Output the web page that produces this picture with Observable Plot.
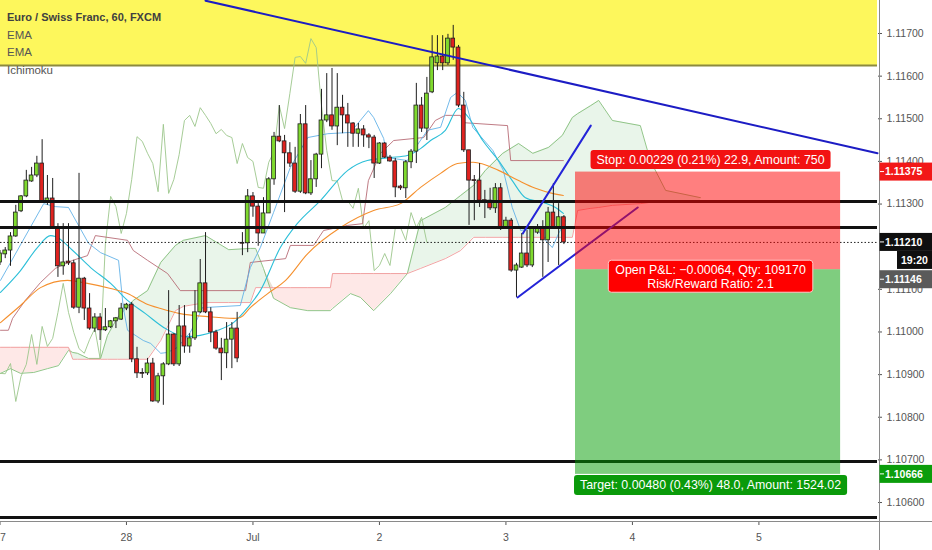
<!DOCTYPE html>
<html><head><meta charset="utf-8">
<script src="https://cdn.jsdelivr.net/npm/d3@7"></script>
<script src="https://cdn.jsdelivr.net/npm/@observablehq/plot@0.6"></script>
<style>
html,body{margin:0;padding:0;background:#fff;}
#chart{position:relative;width:932px;height:550px;overflow:hidden;}
</style></head><body><div id="chart"></div>
<script>
// ---- data (EUR/CHF hourly bars, index 0 = Jun 27 00:00) ----
const opens  = [1.11163,1.11182,1.11191,1.11224,1.11283,1.11318,1.11353,1.11367,1.11395,1.11306,1.11313,1.11245,1.11154,1.11165,1.11161,1.11057,1.11125,1.11055,1.11008,1.11034,1.11004,1.11011,1.11025,1.11029,1.11055,1.11064,1.10936,1.10904,1.10903,1.10926,1.10837,1.10896,1.10924,1.10994,1.10924,1.11013,1.10966,1.10985,1.11046,1.11114,1.11046,1.10999,1.10961,1.10950,1.10982,1.11008,1.11209,1.11208,1.11318,1.11294,1.11231,1.11278,1.11358,1.11458,1.11447,1.11419,1.11395,1.11329,1.11487,1.11325,1.11358,1.11416,1.11496,1.11508,1.11482,1.11526,1.11508,1.11489,1.11465,1.11475,1.11461,1.11456,1.11395,1.11442,1.11409,1.11400,1.11341,1.11337,1.11398,1.11423,1.11531,1.11477,1.11562,1.11630,1.11646,1.11630,1.11688,1.11667,1.11531,1.11426,1.11356,1.11355,1.11309,1.11308,1.11290,1.11337,1.11245,1.11261,1.11144,1.11151,1.11184,1.11156,1.11233,1.11245,1.11215,1.11280,1.11245,1.11269];
const highs  = [1.11191,1.11198,1.11233,1.11297,1.11320,1.11379,1.11386,1.11412,1.11451,1.11367,1.11360,1.11254,1.11254,1.11254,1.11168,1.11372,1.11128,1.11090,1.11043,1.11043,1.11055,1.11027,1.11034,1.11067,1.11067,1.11069,1.10964,1.10914,1.10938,1.10938,1.10903,1.10928,1.11097,1.10996,1.11062,1.11062,1.10996,1.11097,1.11170,1.11233,1.11057,1.11004,1.10985,1.11022,1.11022,1.11046,1.11233,1.11334,1.11327,1.11301,1.11315,1.11362,1.11468,1.11531,1.11461,1.11444,1.11433,1.11510,1.11531,1.11402,1.11419,1.11569,1.11606,1.11618,1.11606,1.11555,1.11536,1.11491,1.11489,1.11484,1.11465,1.11461,1.11444,1.11444,1.11414,1.11407,1.11344,1.11402,1.11428,1.11583,1.11550,1.11597,1.11695,1.11695,1.11695,1.11698,1.11719,1.11672,1.11562,1.11426,1.11367,1.11395,1.11332,1.11337,1.11348,1.11348,1.11269,1.11266,1.11161,1.11231,1.11238,1.11243,1.11252,1.11261,1.11292,1.11348,1.11301,1.11273];
const lows   = [1.11156,1.11172,1.11154,1.11222,1.11280,1.11315,1.11351,1.11362,1.11304,1.11297,1.11243,1.11128,1.11133,1.11156,1.11053,1.11043,1.11027,1.11004,1.10999,1.10980,1.11001,1.11008,1.11008,1.11027,1.11050,1.10928,1.10891,1.10891,1.10898,1.10835,1.10832,1.10828,1.10921,1.10919,1.10919,1.10950,1.10950,1.10980,1.11043,1.11043,1.10975,1.10957,1.10886,1.10914,1.10914,1.10928,1.11179,1.11186,1.11269,1.11201,1.11231,1.11278,1.11344,1.11444,1.11280,1.11386,1.11325,1.11325,1.11322,1.11320,1.11339,1.11383,1.11491,1.11473,1.11437,1.11465,1.11433,1.11433,1.11433,1.11433,1.11430,1.11360,1.11393,1.11407,1.11398,1.11315,1.11332,1.11313,1.11383,1.11395,1.11468,1.11449,1.11559,1.11613,1.11613,1.11625,1.11637,1.11526,1.11421,1.11250,1.11261,1.11292,1.11266,1.11285,1.11278,1.11238,1.11243,1.11140,1.11081,1.11149,1.11151,1.11151,1.11229,1.11128,1.11163,1.11243,1.11156,1.11205];
const closes = [1.11184,1.11191,1.11224,1.11280,1.11318,1.11355,1.11367,1.11395,1.11306,1.11313,1.11245,1.11154,1.11163,1.11161,1.11057,1.11125,1.11055,1.11008,1.11034,1.11004,1.11011,1.11025,1.11032,1.11055,1.11064,1.10936,1.10903,1.10902,1.10926,1.10837,1.10896,1.10924,1.10994,1.10924,1.11013,1.10966,1.10985,1.11046,1.11114,1.11046,1.10999,1.10961,1.10950,1.10982,1.11008,1.10938,1.11207,1.11318,1.11294,1.11231,1.11278,1.11358,1.11458,1.11447,1.11419,1.11395,1.11329,1.11487,1.11325,1.11358,1.11416,1.11496,1.11508,1.11482,1.11526,1.11508,1.11489,1.11465,1.11475,1.11461,1.11456,1.11395,1.11442,1.11409,1.11400,1.11339,1.11337,1.11398,1.11423,1.11531,1.11477,1.11559,1.11644,1.11646,1.11630,1.11688,1.11667,1.11531,1.11426,1.11355,1.11354,1.11308,1.11307,1.11290,1.11337,1.11243,1.11261,1.11144,1.11156,1.11184,1.11156,1.11243,1.11245,1.11215,1.11280,1.11245,1.11269,1.11210];

// indicators: [bar index, price]
const emaFast = [[0.1,1.11093],[3.9,1.11144],[7.1,1.11198],[9.6,1.11226],[10.5,1.11224],[13.8,1.11191],[17.2,1.11151],[21.0,1.11114],[24.2,1.11074],[27.6,1.11043],[31.4,1.11008],[35.2,1.10989],[38.0,1.10992],[41.3,1.11004],[44.3,1.11022],[47.0,1.11057],[49.4,1.11097],[53.2,1.11198],[56.4,1.11254],[60.8,1.11308],[66.0,1.11379],[69.7,1.11402],[74.1,1.11409],[77.3,1.11414],[79.8,1.11430],[81.7,1.11449],[84.5,1.11473],[87.0,1.11524],[88.9,1.11503],[91.6,1.11449],[94.6,1.11402],[97.2,1.11355],[99.7,1.11315],[103.0,1.11304],[105.4,1.11292],[106.9,1.11278]];
const emaSlow = [[0.1,1.11022],[3.9,1.11062],[7.7,1.11104],[12.8,1.11121],[16.6,1.11114],[21.0,1.11102],[24.2,1.11090],[27.6,1.11067],[30.5,1.11055],[34.2,1.11043],[39.4,1.11036],[44.3,1.11032],[45.6,1.11034],[47.5,1.11057],[50.8,1.11090],[54.2,1.11121],[58.4,1.11184],[64.6,1.11245],[70.9,1.11285],[76.0,1.11301],[79.8,1.11339],[83.6,1.11372],[86.8,1.11395],[89.8,1.11398],[94.6,1.11379],[98.4,1.11355],[101.6,1.11337],[104.8,1.11325],[106.9,1.11320]];
const tenkan = [[0.1,1.11121],[8.3,1.11301],[10.5,1.11294],[13.0,1.11292],[16.8,1.11208],[19.1,1.11186],[22.5,1.11168],[23.4,1.11057],[24.2,1.11004],[27.2,1.10980],[28.6,1.10973],[30.5,1.10950],[31.8,1.10952],[33.7,1.10964],[36.1,1.10999],[37.5,1.11032],[38.4,1.11057],[45.6,1.11062],[47.5,1.11151],[49.4,1.11198],[51.9,1.11280],[55.1,1.11386],[58.4,1.11456],[62.2,1.11465],[66.5,1.11468],[69.9,1.11519],[70.9,1.11503],[72.8,1.11454],[73.5,1.11409],[77.3,1.11402],[78.5,1.11426],[81.1,1.11473],[83.6,1.11480],[85.5,1.11550],[86.8,1.11562],[88.3,1.11543],[89.7,1.11480],[93.5,1.11426],[95.5,1.11379],[97.2,1.11292],[98.8,1.11238],[101.6,1.11245],[103.5,1.11215],[104.8,1.11198],[106.0,1.11231],[107.3,1.11261]];
const kijun = [[0.1,1.11004],[1.6,1.11004],[2.4,1.11032],[4.8,1.11074],[7.7,1.11116],[10.5,1.11149],[13.8,1.11168],[16.6,1.11179],[18.1,1.11226],[24.2,1.11215],[25.3,1.11191],[28.0,1.11168],[31.8,1.11137],[34.2,1.11097],[46.6,1.11097],[47.5,1.11163],[54.2,1.11172],[55.1,1.11203],[59.5,1.11203],[61.4,1.11238],[66.0,1.11250],[68.8,1.11254],[69.9,1.11355],[72.2,1.11419],[74.7,1.11449],[80.4,1.11456],[82.6,1.11496],[84.5,1.11508],[87.4,1.11508],[87.8,1.11491],[96.3,1.11484],[96.9,1.11402],[106.9,1.11402]];
const cloudX = [0.1,2.0,3.9,6.4,9.0,11.1,13.0,13.8,14.7,16.8,19.1,20.4,22.3,25.3,28.0,30.5,33.3,34.8,39.0,43.4,47.5,48.5,50.0,51.9,55.1,58.4,62.7,63.1,66.5,68.4,70.9,74.1,77.3,79.8,84.5,87.4,89.9,92.1,95.4,98.4,101.1,104.1,106.7,108.6,109.6,112.1,113.6,116.2,121.5,123.4,126.3,132.9];
const senkouA = [1.10903,1.10914,1.10903,1.10905,1.10914,1.10921,1.10957,1.10952,1.10950,1.10938,1.10938,1.10992,1.11034,1.11074,1.11097,1.11163,1.11203,1.11215,1.11226,1.11193,1.11196,1.11196,1.11149,1.11079,1.11057,1.11050,1.11050,1.11055,1.11090,1.11081,1.11050,1.11090,1.11137,1.11261,1.11292,1.11320,1.11344,1.11379,1.11419,1.11442,1.11419,1.11433,1.11461,1.11503,1.11512,1.11531,1.11543,1.11496,1.11484,1.11402,1.11332,1.11315];
const senkouB = [1.10964,1.10964,1.10964,1.10964,1.10964,1.10964,1.10964,1.10936,1.10936,1.10936,1.10936,1.10936,1.10936,1.10936,1.10936,1.10980,1.11050,1.11060,1.11069,1.11069,1.11069,1.11104,1.11104,1.11104,1.11104,1.11104,1.11104,1.11137,1.11137,1.11137,1.11137,1.11137,1.11137,1.11149,1.11172,1.11191,1.11222,1.11222,1.11222,1.11222,1.11222,1.11222,1.11222,1.11222,1.11285,1.11290,1.11292,1.11297,1.11301,1.11304,1.11306,1.11308];
const chikouShift = 26;

// drawings
const levels = [1.11306, 1.11245, 1.10696, 1.10565];
const lastPrice = 1.11210;
const zoneBottom = 1.11625, zoneTop = 1.1185;
const trendLine = [[39.0,1.11777],[166.5,1.11419]];
const wedgeUpper = [[99.2,1.11231],[112.1,1.11484]];
const wedgeLower = [[98.2,1.11081],[121.0,1.11292]];
const tradeStart = 109.2, tradeEnd = 159.5;
const entry = 1.11146, stop = 1.11375, target = 1.10666;
const stopText = "Stop: 0.00229 (0.21%) 22.9, Amount: 750";
const pnlText = ["Open P&L: \u22120.00064, Qty: 109170", "Risk/Reward Ratio: 2.1"];
const targetText = "Target: 0.00480 (0.43%) 48.0, Amount: 1524.02";
const countdown = "19:20";

// axes
const dayIdx = [0, 24, 48, 72, 96, 120, 144];
const dayLabels = ["27", "28", "Jul", "2", "3", "4", "5"];
const priceTicks = [1.117, 1.116, 1.115, 1.114, 1.113, 1.111, 1.110, 1.109, 1.108, 1.107, 1.106];
const legendLines = ["Euro / Swiss Franc, 60, FXCM", "EMA", "EMA", "Ichimoku"];

const viewX = [0.1, 166.5];
const viewY = [1.105555, 1.117774];

// ---- build ----
const FONT = "'Liberation Sans', Arial, sans-serif";
const GREEN = "#7fd92e", RED = "#e0221f";
const candles = opens.map((o, i) => ({i, o, h: highs[i], l: lows[i], c: closes[i]}));
const cloud = cloudX.map((x, k) => ({x, a: senkouA[k], b: senkouB[k]}));
const chikou = closes.slice(chikouShift).map((c, k) => ({x: k, y: c}));
const pts = arr => arr.map(([x, y]) => ({x, y}));

const plot = Plot.plot({
  width: 932, height: 550,
  marginLeft: 0, marginRight: 55, marginTop: 0, marginBottom: 29,
  x: {domain: viewX, label: null},
  y: {domain: viewY, label: null},
  color: {type: "identity"},
  style: {fontFamily: FONT, background: "#fff"},
  marks: [
    Plot.rect([{y1: zoneBottom, y2: zoneTop}], {x1: () => viewX[0], x2: () => viewX[1], y1: "y1", y2: "y2", fill: "#fdf75c"}),
    Plot.ruleY([zoneBottom], {stroke: "#8c8a3e", strokeWidth: 2}),
    Plot.areaY(cloud, {x: "x", y1: "b", y2: d => Math.max(d.a, d.b), fill: "#4caf50", fillOpacity: 0.12}),
    Plot.areaY(cloud, {x: "x", y1: "a", y2: d => Math.max(d.a, d.b), fill: "#f44336", fillOpacity: 0.12}),
    Plot.line(cloud, {x: "x", y: "a", stroke: "#86bf7c", strokeWidth: 1, strokeOpacity: 0.9}),
    Plot.line(cloud, {x: "x", y: "b", stroke: "#f09a9a", strokeWidth: 1, strokeOpacity: 0.9}),
    Plot.line(chikou, {x: "x", y: "y", stroke: "#9cc78c", strokeWidth: 1, strokeOpacity: 0.9}),
    Plot.line(pts(kijun), {x: "x", y: "y", stroke: "#b4646e", strokeWidth: 1, strokeOpacity: 0.85}),
    Plot.line(pts(tenkan), {x: "x", y: "y", stroke: "#5aaee6", strokeWidth: 1, strokeOpacity: 0.85}),
    Plot.line(pts(emaFast), {x: "x", y: "y", stroke: "#2cbfd8", strokeWidth: 1.1, curve: "monotone-x"}),
    Plot.line(pts(emaSlow), {x: "x", y: "y", stroke: "#f5902e", strokeWidth: 1.1, curve: "monotone-x"}),
    Plot.ruleX(candles, {x: "i", y1: "l", y2: "h", stroke: "#1e1e1e", strokeWidth: 1}),
    Plot.rect(candles, {x1: d => d.i - 0.36, x2: d => d.i + 0.36, y1: "o", y2: "c",
      fill: d => d.c >= d.o ? GREEN : RED, stroke: "#1e1e1e", strokeWidth: 0.8}),
    Plot.ruleY(levels, {stroke: "#111", strokeWidth: 3}),
    Plot.ruleY([lastPrice], {stroke: "#222", strokeWidth: 1, strokeDasharray: "1.5,2"}),
    Plot.line(pts(trendLine), {x: "x", y: "y", stroke: "#1c1cc4", strokeWidth: 2}),
    Plot.line(pts(wedgeUpper), {x: "x", y: "y", stroke: "#2424d8", strokeWidth: 2}),
    Plot.line(pts(wedgeLower), {x: "x", y: "y", stroke: "#2424d8", strokeWidth: 2}),
    Plot.rect([{y1: entry, y2: stop}], {x1: () => tradeStart, x2: () => tradeEnd, y1: "y1", y2: "y2", fill: "#ff0000", fillOpacity: 0.5}),
    Plot.rect([{y1: target, y2: entry}], {x1: () => tradeStart, x2: () => tradeEnd, y1: "y1", y2: "y2", fill: "#009b00", fillOpacity: 0.5}),
    Plot.axisY(priceTicks, {anchor: "right", tickFormat: d3.format(".5f"), tickSize: 4, tickPadding: 5, fontSize: 10.5, color: "#555", label: null}),
    Plot.axisX(dayIdx, {anchor: "bottom", tickFormat: d => dayLabels[dayIdx.indexOf(d)], tickSize: 4, tickPadding: 8, fontSize: 10.5, color: "#555", label: null})
  ]
});
document.getElementById("chart").appendChild(plot);

// ---- overlays positioned through the plot's scales ----
const svg = d3.select(plot);
const sx = plot.scale("x"), sy = plot.scale("y");
const xr = sx.apply(viewX[1]);
const ov = svg.append("g").attr("font-family", FONT).attr("text-anchor", "start");

ov.append("line").attr("x1", xr + 2.5).attr("x2", xr + 2.5).attr("y1", 0).attr("y2", 550).attr("stroke", "#8a8a8a");
ov.append("line").attr("x1", 0).attr("x2", 932).attr("y1", sy.apply(viewY[0]) + 0.5).attr("y2", sy.apply(viewY[0]) + 0.5).attr("stroke", "#8a8a8a");

function boxLabel(cx, cy, lines, o) {
  const g = ov.append("g");
  const lh = o.lh || 14;
  const ts = lines.map((s, k) => g.append("text")
    .attr("x", cx).attr("y", cy + (k - (lines.length - 1) / 2) * lh)
    .attr("dy", "0.36em").attr("text-anchor", "middle")
    .attr("font-size", o.fs).attr("fill", "#fff").text(s));
  const w = d3.max(ts.map(t => t.node().getComputedTextLength()));
  g.insert("rect", "text").attr("x", cx - w / 2 - o.px).attr("y", cy - o.h / 2)
    .attr("width", w + 2 * o.px).attr("height", o.h).attr("rx", 3)
    .attr("fill", o.fill).attr("stroke", o.stroke || "none").attr("stroke-width", 1);
}
const cx = (sx.apply(tradeStart) + sx.apply(tradeEnd)) / 2 + 3;
boxLabel(cx, sy.apply(stop) - 12, [stopText], {fs: 12.4, px: 6, h: 19, fill: "#f21212"});
boxLabel(cx, sy.apply(entry) + 7, pnlText, {fs: 12.4, px: 7, h: 32, fill: "#f00", stroke: "#ffc9c9"});
boxLabel(cx, sy.apply(target) + 11, [targetText], {fs: 12.4, px: 6, h: 20, fill: "#0a9a0a"});

function axisLabel(price, text, fill, dy, x0, tx) {
  const y = sy.apply(price) + dy;
  ov.append("rect").attr("x", x0).attr("y", y - 9).attr("width", 932 - x0).attr("height", 18).attr("fill", fill);
  if (x0 < xr + 5) ov.append("line").attr("x1", xr + 3).attr("x2", xr + 7).attr("y1", y).attr("y2", y).attr("stroke", "#fff");
  ov.append("text").attr("x", tx).attr("y", y).attr("dy", "0.36em").attr("font-size", 10.5)
    .attr("text-anchor", "start").attr("font-weight", "bold").attr("fill", "#fff").text(text);
}
const f5 = d3.format(".5f");
axisLabel(stop, f5(stop), "#f21818", 0, xr + 2.5, xr + 8);
axisLabel(lastPrice, f5(lastPrice), "#0f0f0f", 0, xr + 2.5, xr + 8);
axisLabel(lastPrice, countdown, "#0f0f0f", 18, xr + 20, xr + 24);
axisLabel(entry, f5(entry), "#5a5a5a", 10, xr + 2.5, xr + 8);
axisLabel(target, f5(target), "#0b9d0b", 0, xr + 2.5, xr + 8);

legendLines.forEach((s, k) => {
  ov.append("text").attr("x", 7).attr("y", 21 + k * 17.6).attr("text-anchor", "start")
    .attr("font-size", k === 0 ? 11 : 11.5).attr("font-weight", k === 0 ? "bold" : "normal")
    .attr("fill", k === 0 ? "#404040" : "#555").text(s);
});
</script></body></html>
